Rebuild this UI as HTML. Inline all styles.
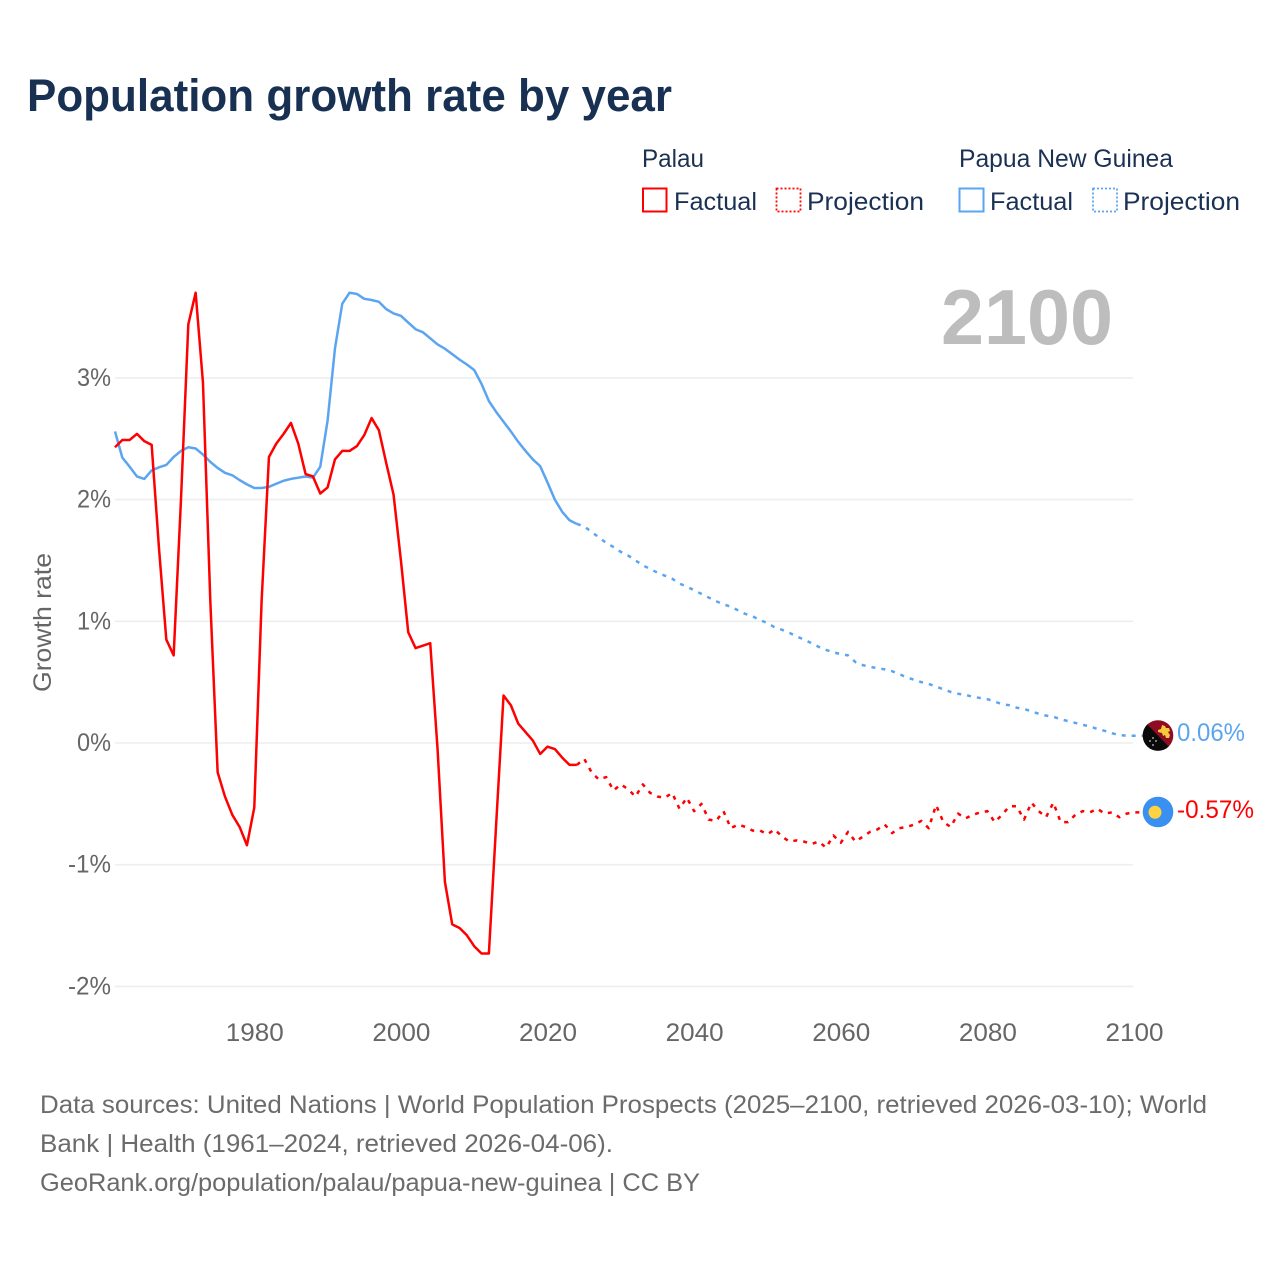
<!DOCTYPE html>
<html lang="en">
<head>
<meta charset="utf-8">
<title>Population growth rate by year</title>
<style>
html,body{margin:0;padding:0;background:#fff;width:1280px;height:1280px;overflow:hidden}
svg{display:block}
text{font-family:"Liberation Sans",sans-serif}
</style>
</head>
<body>
<svg id="chart" xmlns="http://www.w3.org/2000/svg" width="1280" height="1280" viewBox="0 0 1280 1280">
  <rect width="1280" height="1280" fill="#ffffff"/>
  <text x="27" y="111" font-size="45" font-weight="700" fill="#183153" textLength="645" lengthAdjust="spacingAndGlyphs">Population growth rate by year</text>

  <g font-size="25" fill="#1b3153">
    <text x="642" y="167" textLength="62" lengthAdjust="spacingAndGlyphs">Palau</text>
    <rect x="643" y="188.500" width="23.500" height="23" fill="none" stroke="#ff0000" stroke-width="2"/>
    <text x="674" y="210" textLength="83" lengthAdjust="spacingAndGlyphs">Factual</text>
    <rect x="776.500" y="188.500" width="24" height="23" fill="none" stroke="#ff0000" stroke-width="1.800" stroke-dasharray="2 2"/>
    <text x="807" y="210" textLength="117" lengthAdjust="spacingAndGlyphs">Projection</text>
    <text x="959" y="167" textLength="214" lengthAdjust="spacingAndGlyphs">Papua New Guinea</text>
    <rect x="959.500" y="188.500" width="24" height="23" fill="none" stroke="#5ba5f0" stroke-width="2"/>
    <text x="990" y="210" textLength="83" lengthAdjust="spacingAndGlyphs">Factual</text>
    <rect x="1093" y="188.500" width="24" height="23" fill="none" stroke="#5ba5f0" stroke-width="1.800" stroke-dasharray="2 2"/>
    <text x="1123" y="210" textLength="117" lengthAdjust="spacingAndGlyphs">Projection</text>
  </g>

  <text x="941" y="344" font-size="78" font-weight="700" fill="#bdbdbd" textLength="172" lengthAdjust="spacingAndGlyphs">2100</text>

  <g id="grid"></g>
  <g id="yticks"></g>
  <g id="xticks"></g>

  <text transform="translate(51 622.500) rotate(-90)" text-anchor="middle" font-size="25" fill="#666666" textLength="139" lengthAdjust="spacingAndGlyphs">Growth rate</text>

  <g id="series"></g>

  <g id="flag-png">
    <clipPath id="clip-png"><circle cx="1158" cy="735.500" r="15.300"/></clipPath>
    <g clip-path="url(#clip-png)">
      <rect x="1142" y="719" width="32" height="33" fill="#8f0d22"/>
      <polygon points="1142,719 1174,752 1142,752" fill="#0a0a0a"/>
      <path d="M1158 730l3-1 1-4 3 1 1 2 3 0 1 3-2 1 2 3-1 3-3 0-1-3-2 1-1-3-4-1z" fill="#f6c83c"/>
      <circle cx="1153" cy="738" r="0.900" fill="#c9c9c9"/>
      <circle cx="1150" cy="741" r="0.900" fill="#c9c9c9"/>
      <circle cx="1156" cy="741" r="0.900" fill="#c9c9c9"/>
      <circle cx="1153" cy="745" r="0.900" fill="#c9c9c9"/>
    </g>
  </g>
  <g id="flag-palau">
    <circle cx="1158" cy="812" r="15.300" fill="#3a90f0"/>
    <circle cx="1155" cy="812.300" r="6.500" fill="#ffd23f"/>
  </g>

  <text id="end-png" x="1177" y="741" font-size="25" fill="#5ba5f0" textLength="68" lengthAdjust="spacingAndGlyphs">0.06%</text>
  <text id="end-palau" x="1177" y="818" font-size="25" fill="#ff0000" textLength="77" lengthAdjust="spacingAndGlyphs">-0.57%</text>

  <g font-size="25" fill="#6b6b6b">
    <text x="40" y="1113" textLength="1167" lengthAdjust="spacingAndGlyphs">Data sources: United Nations | World Population Prospects (2025–2100, retrieved 2026-03-10); World</text>
    <text x="40" y="1152" textLength="573" lengthAdjust="spacingAndGlyphs">Bank | Health (1961–2024, retrieved 2026-04-06).</text>
    <text x="40" y="1191" textLength="660" lengthAdjust="spacingAndGlyphs">GeoRank.org/population/palau/papua-new-guinea | CC BY</text>
  </g>
</svg>
<script>
const yTickValues = [3, 2, 1, 0, -1, -2];
const xTickYears = [1980, 2000, 2020, 2040, 2060, 2080, 2100];
const firstFactualYear = 1961;
const firstProjectionYear = 2024;

const palauFactual = [2.43,2.49,2.49,2.54,2.48,2.45,1.6,0.85,0.72,2.0,3.44,3.70,2.96,1.17,-0.24,-0.44,-0.59,-0.69,-0.84,-0.53,1.17,2.35,2.46,2.54,2.63,2.46,2.21,2.19,2.05,2.10,2.33,2.40,2.40,2.44,2.53,2.67,2.57,2.30,2.04,1.50,0.91,0.78,0.80,0.82,-0.05,-1.14,-1.49,-1.52,-1.58,-1.67,-1.73,-1.73,-0.66,0.39,0.31,0.16,0.09,0.02,-0.09,-0.03,-0.05,-0.12,-0.18,-0.18];
const palauProjection = [-0.18,-0.13,-0.24,-0.30,-0.28,-0.39,-0.34,-0.38,-0.44,-0.34,-0.41,-0.44,-0.45,-0.41,-0.54,-0.45,-0.56,-0.50,-0.63,-0.64,-0.56,-0.70,-0.67,-0.69,-0.72,-0.72,-0.75,-0.71,-0.77,-0.81,-0.80,-0.81,-0.83,-0.81,-0.86,-0.76,-0.82,-0.73,-0.81,-0.77,-0.73,-0.71,-0.67,-0.74,-0.70,-0.69,-0.67,-0.64,-0.70,-0.51,-0.65,-0.69,-0.58,-0.62,-0.59,-0.57,-0.56,-0.65,-0.59,-0.52,-0.52,-0.63,-0.49,-0.56,-0.61,-0.49,-0.65,-0.65,-0.59,-0.56,-0.57,-0.54,-0.58,-0.57,-0.61,-0.58,-0.57];
const pngFactual = [2.56,2.345,2.27,2.19,2.17,2.24,2.265,2.285,2.35,2.40,2.43,2.42,2.37,2.31,2.26,2.22,2.20,2.16,2.125,2.095,2.095,2.105,2.13,2.155,2.17,2.18,2.19,2.18,2.27,2.65,3.24,3.61,3.70,3.69,3.65,3.64,3.625,3.565,3.53,3.51,3.455,3.40,3.375,3.325,3.275,3.24,3.195,3.15,3.11,3.065,2.95,2.81,2.72,2.64,2.56,2.475,2.40,2.33,2.275,2.14,2.00,1.90,1.83,1.80];
const pngProjection = [1.80,1.78,1.735,1.69,1.645,1.61,1.57,1.54,1.50,1.46,1.43,1.40,1.375,1.35,1.31,1.285,1.255,1.225,1.195,1.165,1.14,1.12,1.09,1.06,1.04,1.01,0.985,0.95,0.93,0.905,0.875,0.85,0.82,0.79,0.765,0.745,0.73,0.72,0.665,0.64,0.625,0.615,0.605,0.59,0.565,0.54,0.52,0.50,0.485,0.465,0.44,0.42,0.405,0.395,0.38,0.37,0.36,0.34,0.32,0.31,0.29,0.28,0.26,0.24,0.225,0.215,0.195,0.18,0.165,0.15,0.135,0.115,0.10,0.08,0.065,0.06,0.06];

const NS = 'http://www.w3.org/2000/svg';
function xScale(year) { return 115 + (year - 1961) * (1134 - 115) / (2100 - 1961); }
function yScale(v) { return 743 - v * 121.7; }
function make(tag, parent, attrs) {
  const el = document.createElementNS(NS, tag);
  for (const k in attrs) el.setAttribute(k, attrs[k]);
  parent.appendChild(el);
  return el;
}
function pathFor(values, startYear, tail) {
  let d = values.map((v, i) => (i ? 'L' : 'M') + xScale(startYear + i).toFixed(2) + ' ' + yScale(v).toFixed(2)).join('');
  if (tail) d += 'H' + (xScale(startYear + values.length - 1) + tail).toFixed(2);
  return d;
}

const gridG = document.getElementById('grid');
const yG = document.getElementById('yticks');
const xG = document.getElementById('xticks');
const seriesG = document.getElementById('series');

yTickValues.forEach(v => {
  const line = make('line', gridG, { x1: 115, x2: 1133, y1: yScale(v), y2: yScale(v), stroke: '#eeeeee', 'stroke-width': 1.6 });
  
  
  const label = make('text', yG, { x: 111, y: yScale(v) + 8, 'text-anchor': 'end', 'font-size': 25, fill: '#666666' });
  
  
  label.textContent = v + '%';
  label.setAttribute('textLength', v < 0 ? 43 : 34);
  label.setAttribute('lengthAdjust', 'spacingAndGlyphs');
});

xTickYears.forEach(year => {
  const label = make('text', xG, { x: xScale(year) + 0.5, y: 1041, 'text-anchor': 'middle', 'font-size': 25, fill: '#666666' });
  
  
  label.textContent = year;
  label.setAttribute('textLength', 58);
  label.setAttribute('lengthAdjust', 'spacingAndGlyphs');
});

const common = { fill: 'none', 'stroke-linejoin': 'round', 'stroke-width': 2.5 };

const pngSolid = make('path', seriesG, Object.assign({ d: pathFor(pngFactual, firstFactualYear), stroke: '#5ba5f0' }, common));



const palauSolid = make('path', seriesG, Object.assign({ d: pathFor(palauFactual, firstFactualYear), stroke: '#ff0000' }, common));



const pngDash = make('path', seriesG, Object.assign({ d: pathFor(pngProjection, firstProjectionYear, 9), stroke: '#5ba5f0', 'stroke-dasharray': '4 6' }, common));



const palauDash = make('path', seriesG, Object.assign({ d: pathFor(palauProjection, firstProjectionYear, 9), stroke: '#ff0000', 'stroke-dasharray': '4 6' }, common));


</script>
</body>
</html>
